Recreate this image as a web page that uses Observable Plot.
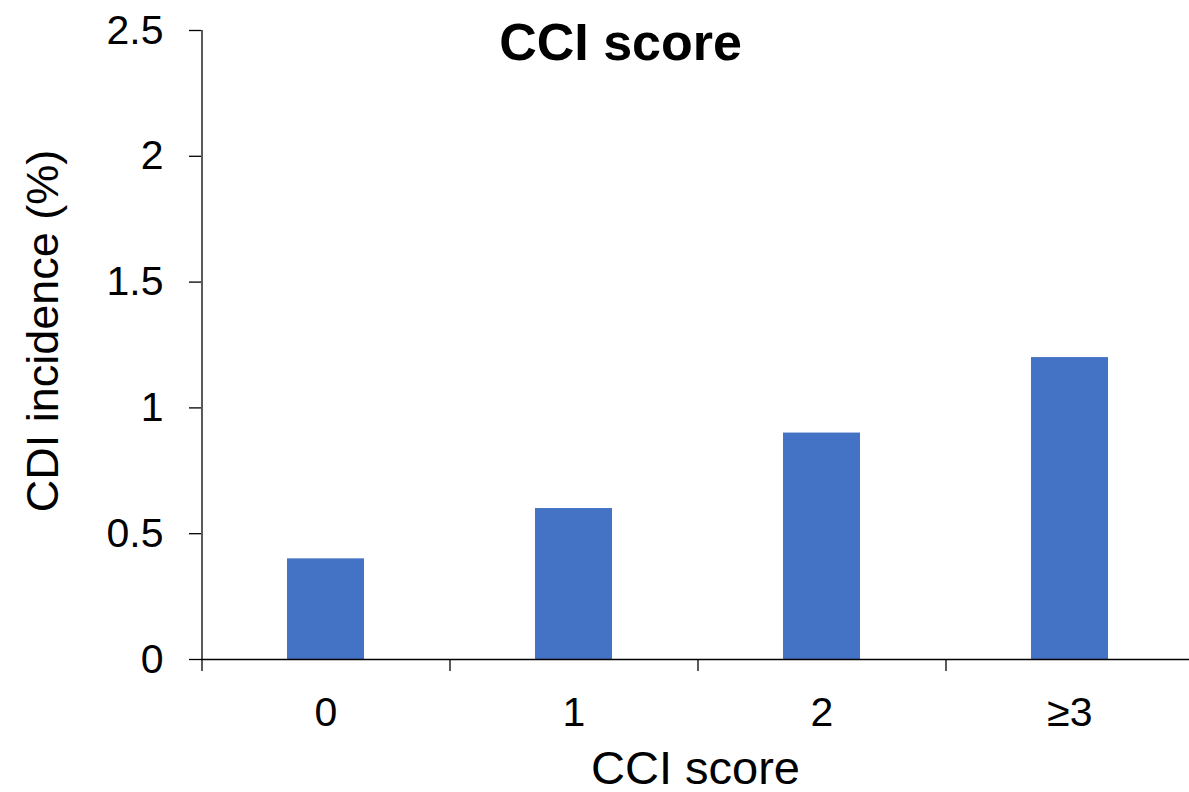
<!DOCTYPE html>
<html>
<head>
<meta charset="utf-8">
<script src="https://cdn.jsdelivr.net/npm/d3@7"></script>
<script src="https://cdn.jsdelivr.net/npm/@observablehq/plot@0.6"></script>
<style>
  html, body { margin: 0; padding: 0; background: #fff; }
  svg { display: block; }
</style>
</head>
<body>
<div id="chart"></div>
<script>
// CDI incidence by Charlson comorbidity index (CCI) score
const categories = ["0", "1", "2", "≥3"];
const incidence = [0.4, 0.6, 0.9, 1.2];
const yTicks = [0, 0.5, 1, 1.5, 2, 2.5];

const chartTitle = "CCI score";
const xLabel = "CCI score";
const yLabel = "CDI incidence (%)";

const data = categories.map((c, i) => ({category: c, value: incidence[i]}));

const W = 1189, H = 792;
const marginLeft = 201, marginTop = 30, marginBottom = 133;
// the category axis runs a little past the right edge of the canvas
const xRange = [marginLeft, marginLeft + 992];
const step = (xRange[1] - xRange[0]) / categories.length;
const font = "'Liberation Sans', Arial, sans-serif";

const plot = Plot.plot({
  width: W,
  height: H,
  marginLeft,
  marginTop,
  marginBottom,
  marginRight: 0,
  style: {fontFamily: font, color: "#000", background: "#fff"},
  x: {domain: categories, range: xRange, paddingInner: 0.69, paddingOuter: 0.345},
  y: {domain: [0, 2.5]},
  marks: [
    Plot.barY(data, {x: "category", y: "value", fill: "#4472C4"}),
    // value axis line, extended down to the first category boundary tick
    Plot.ruleX([categories[0]], {x: d => d, dx: -step / 2, y1: 2.5, y2: 0, insetBottom: -12, stroke: "#000", strokeWidth: 1.3}),
    // tick marks at category boundaries
    Plot.ruleX(categories.slice(1), {x: d => d, dx: -step / 2, y1: 0, y2: 0, insetBottom: -12, stroke: "#000", strokeWidth: 1.3}),
    Plot.ruleY([0], {stroke: "#000", strokeWidth: 1.3}),
    Plot.axisY({ticks: yTicks, tickSize: 12, tickPadding: 26, fontSize: 41, label: null, strokeWidth: 1.3, tickFormat: d => String(d)}),
    Plot.axisX({tickSize: 0, tickPadding: 37, fontSize: 41, label: null}),
    Plot.text([chartTitle], {frameAnchor: "top", textAnchor: "middle", dx: -75, dy: 29, lineAnchor: "bottom", fontSize: 52, fontWeight: "bold", fill: "#000"}),
    Plot.text([xLabel], {frameAnchor: "bottom", textAnchor: "middle", dy: 124, lineAnchor: "bottom", fontSize: 47, fill: "#000"}),
    Plot.text([yLabel], {frameAnchor: "left", textAnchor: "middle", rotate: -90, dx: -144, dy: -14, lineAnchor: "bottom", fontSize: 45, fill: "#000"})
  ]
});
document.getElementById("chart").appendChild(plot);
</script>
</body>
</html>
